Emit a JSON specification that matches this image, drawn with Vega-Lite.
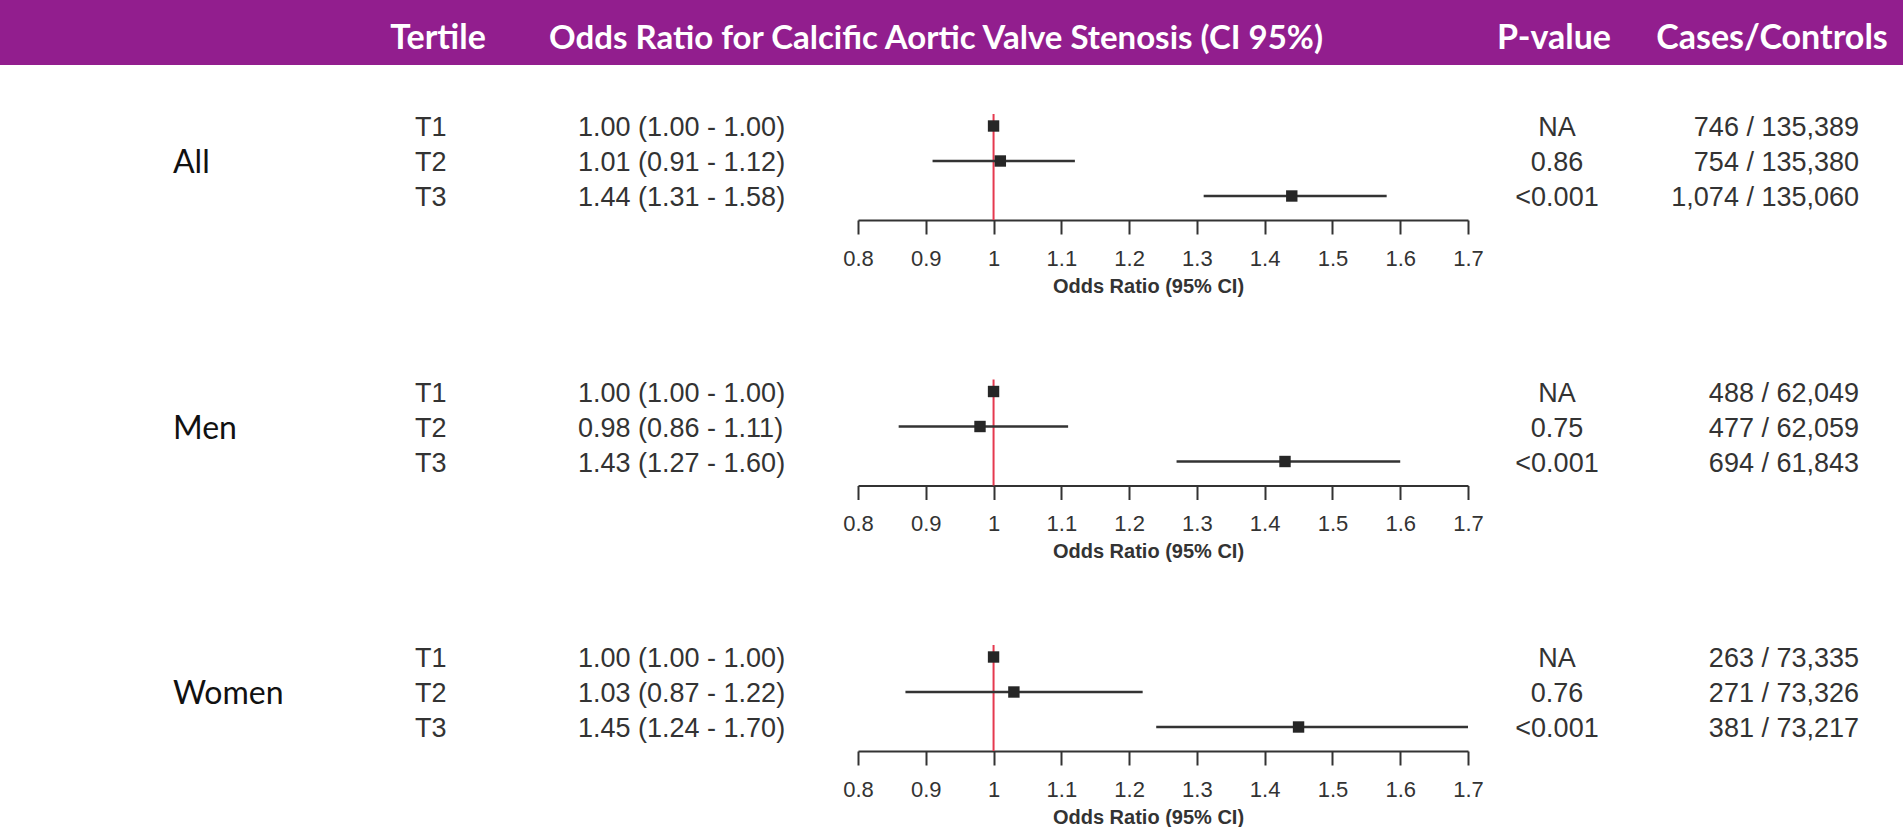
{
  "$schema": "https://vega.github.io/schema/vega-lite/v6.json",
  "padding": 0,
  "background": "white",
  "datasets": {
    "forest": [
      {"group": "All", "tertile": "T1", "or": 1.00, "lo": 1.00, "hi": 1.00, "est": "1.00 (1.00 - 1.00)", "p": "NA", "cases": "746 / 135,389"},
      {"group": "All", "tertile": "T2", "or": 1.01, "lo": 0.91, "hi": 1.12, "est": "1.01 (0.91 - 1.12)", "p": "0.86", "cases": "754 / 135,380"},
      {"group": "All", "tertile": "T3", "or": 1.44, "lo": 1.31, "hi": 1.58, "est": "1.44 (1.31 - 1.58)", "p": "<0.001", "cases": "1,074 / 135,060"},
      {"group": "Men", "tertile": "T1", "or": 1.00, "lo": 1.00, "hi": 1.00, "est": "1.00 (1.00 - 1.00)", "p": "NA", "cases": "488 / 62,049"},
      {"group": "Men", "tertile": "T2", "or": 0.98, "lo": 0.86, "hi": 1.11, "est": "0.98 (0.86 - 1.11)", "p": "0.75", "cases": "477 / 62,059"},
      {"group": "Men", "tertile": "T3", "or": 1.43, "lo": 1.27, "hi": 1.60, "est": "1.43 (1.27 - 1.60)", "p": "<0.001", "cases": "694 / 61,843"},
      {"group": "Women", "tertile": "T1", "or": 1.00, "lo": 1.00, "hi": 1.00, "est": "1.00 (1.00 - 1.00)", "p": "NA", "cases": "263 / 73,335"},
      {"group": "Women", "tertile": "T2", "or": 1.03, "lo": 0.87, "hi": 1.22, "est": "1.03 (0.87 - 1.22)", "p": "0.76", "cases": "271 / 73,326"},
      {"group": "Women", "tertile": "T3", "or": 1.45, "lo": 1.24, "hi": 1.70, "est": "1.45 (1.24 - 1.70)", "p": "<0.001", "cases": "381 / 73,217"}
    ],
    "header": [
      {"col": "tertile", "label": "Tertile"},
      {"col": "or", "label": "Odds Ratio for Calcific Aortic Valve Stenosis (CI 95%)"},
      {"col": "p", "label": "P-value"},
      {"col": "cases", "label": "Cases/Controls"}
    ]
  },
  "config": {"view": {"stroke": null}},
  "spacing": 48,
  "vconcat": [
    {
      "width": 1903,
      "height": 65,
      "view": {"fill": "#921e8e", "stroke": null},
      "data": {"name": "header"},
      "layer": [
        {"transform": [{"filter": "datum.col == 'tertile'"}], "mark": {"type": "text", "font": "Lato", "fontSize": 34, "fontWeight": "bold", "color": "white", "align": "center", "baseline": "middle", "dy": 6}, "encoding": {"x": {"field": "col", "type": "nominal", "axis": null, "scale": {"type": "point", "range": [438, 438], "padding": 0}}, "text": {"field": "label"}}},
        {"transform": [{"filter": "datum.col == 'or'"}], "mark": {"type": "text", "font": "Lato", "fontSize": 33, "fontWeight": "bold", "color": "white", "align": "center", "baseline": "middle", "dy": 6}, "encoding": {"x": {"field": "col", "type": "nominal", "axis": null, "scale": {"type": "point", "range": [936, 936], "padding": 0}}, "text": {"field": "label"}}},
        {"transform": [{"filter": "datum.col == 'p'"}], "mark": {"type": "text", "font": "Lato", "fontSize": 34, "fontWeight": "bold", "color": "white", "align": "center", "baseline": "middle", "dy": 6}, "encoding": {"x": {"field": "col", "type": "nominal", "axis": null, "scale": {"type": "point", "range": [1554, 1554], "padding": 0}}, "text": {"field": "label"}}},
        {"transform": [{"filter": "datum.col == 'cases'"}], "mark": {"type": "text", "font": "Lato", "fontSize": 34, "fontWeight": "bold", "color": "white", "align": "center", "baseline": "middle", "dy": 6}, "encoding": {"x": {"field": "col", "type": "nominal", "axis": null, "scale": {"type": "point", "range": [1772, 1772], "padding": 0}}, "text": {"field": "label"}}}
      ],
      "resolve": {"scale": {"x": "independent"}}
    },
    {
      "spacing": 159.5,
      "bounds": "flush",
      "vconcat": [
        {
          "width": 1903, "height": 106,
          "data": {"name": "forest"},
          "transform": [{"filter": "datum.group == 'All'"}],
          "layer": [
            {
              "layer": [
                {"transform": [{"filter": "datum.tertile == 'T1'"}], "mark": {"type": "rule", "color": "#e5394f", "strokeWidth": 2}, "encoding": {"x": {"datum": 1, "type": "quantitative", "scale": {"domain": [0.8, 1.7], "range": [858, 1468], "nice": false, "zero": false}, "axis": {"values": [0.8, 0.9, 1, 1.1, 1.2, 1.3, 1.4, 1.5, 1.6, 1.7], "format": "~g", "title": "Odds Ratio (95% CI)", "titleX": 1148, "grid": false, "domainColor": "#333333", "domainWidth": 2, "tickColor": "#333333", "tickWidth": 2, "tickSize": 14, "labelFont": "Liberation Sans", "labelFontSize": 22, "labelColor": "#333333", "labelPadding": 14, "labelFlush": false, "labelOverlap": false, "titleFont": "Liberation Sans", "titleFontSize": 20, "titleFontWeight": "bold", "titleColor": "#333333", "titlePadding": 7}}}},
                {"mark": {"type": "rule", "color": "#333333", "strokeWidth": 2.4}, "encoding": {"x": {"field": "lo", "type": "quantitative"}, "x2": {"field": "hi"}, "y": {"field": "tertile", "type": "nominal", "axis": null, "scale": {"type": "point", "domain": ["T1", "T2", "T3"], "range": [12, 82], "padding": 0}}}},
                {"mark": {"type": "square", "filled": true, "size": 130, "color": "#262626", "opacity": 1}, "encoding": {"x": {"field": "or", "type": "quantitative"}, "y": {"field": "tertile", "type": "nominal"}}}
              ]
            },
            {"transform": [{"filter": "datum.tertile == 'T2'"}], "mark": {"type": "text", "font": "Lato", "fontSize": 32, "color": "#111111", "align": "left", "baseline": "middle", "dy": 2}, "encoding": {"x": {"field": "group", "type": "nominal", "axis": null, "scale": {"type": "point", "range": [173, 173], "padding": 0}}, "y": {"field": "tertile", "type": "nominal"}, "text": {"field": "group"}}},
            {"transform": [{"fold": ["tertile", "est"], "as": ["key", "value"]}], "mark": {"type": "text", "font": "Liberation Sans", "fontSize": 27, "color": "#333333", "align": "left", "baseline": "middle", "dy": 2}, "encoding": {"x": {"field": "key", "type": "nominal", "axis": null, "scale": {"type": "point", "domain": ["tertile", "est"], "range": [415, 578], "padding": 0}}, "y": {"field": "tertile", "type": "nominal"}, "text": {"field": "value"}}},
            {"mark": {"type": "text", "font": "Liberation Sans", "fontSize": 27, "color": "#333333", "align": "center", "baseline": "middle", "dy": 2}, "encoding": {"x": {"datum": "p", "type": "nominal", "axis": null, "scale": {"type": "point", "range": [1557, 1557], "padding": 0}}, "y": {"field": "tertile", "type": "nominal"}, "text": {"field": "p"}}},
            {"mark": {"type": "text", "font": "Liberation Sans", "fontSize": 27, "color": "#333333", "align": "right", "baseline": "middle", "dy": 2}, "encoding": {"x": {"datum": "cases", "type": "nominal", "axis": null, "scale": {"type": "point", "range": [1859, 1859], "padding": 0}}, "y": {"field": "tertile", "type": "nominal"}, "text": {"field": "cases"}}}
          ],
          "resolve": {"scale": {"x": "independent"}, "axis": {"x": "independent"}}
        },
        {
          "width": 1903, "height": 106,
          "data": {"name": "forest"},
          "transform": [{"filter": "datum.group == 'Men'"}],
          "layer": [
            {
              "layer": [
                {"transform": [{"filter": "datum.tertile == 'T1'"}], "mark": {"type": "rule", "color": "#e5394f", "strokeWidth": 2}, "encoding": {"x": {"datum": 1, "type": "quantitative", "scale": {"domain": [0.8, 1.7], "range": [858, 1468], "nice": false, "zero": false}, "axis": {"values": [0.8, 0.9, 1, 1.1, 1.2, 1.3, 1.4, 1.5, 1.6, 1.7], "format": "~g", "title": "Odds Ratio (95% CI)", "titleX": 1148, "grid": false, "domainColor": "#333333", "domainWidth": 2, "tickColor": "#333333", "tickWidth": 2, "tickSize": 14, "labelFont": "Liberation Sans", "labelFontSize": 22, "labelColor": "#333333", "labelPadding": 14, "labelFlush": false, "labelOverlap": false, "titleFont": "Liberation Sans", "titleFontSize": 20, "titleFontWeight": "bold", "titleColor": "#333333", "titlePadding": 7}}}},
                {"mark": {"type": "rule", "color": "#333333", "strokeWidth": 2.4}, "encoding": {"x": {"field": "lo", "type": "quantitative"}, "x2": {"field": "hi"}, "y": {"field": "tertile", "type": "nominal", "axis": null, "scale": {"type": "point", "domain": ["T1", "T2", "T3"], "range": [12, 82], "padding": 0}}}},
                {"mark": {"type": "square", "filled": true, "size": 130, "color": "#262626", "opacity": 1}, "encoding": {"x": {"field": "or", "type": "quantitative"}, "y": {"field": "tertile", "type": "nominal"}}}
              ]
            },
            {"transform": [{"filter": "datum.tertile == 'T2'"}], "mark": {"type": "text", "font": "Lato", "fontSize": 32, "color": "#111111", "align": "left", "baseline": "middle", "dy": 2}, "encoding": {"x": {"field": "group", "type": "nominal", "axis": null, "scale": {"type": "point", "range": [173, 173], "padding": 0}}, "y": {"field": "tertile", "type": "nominal"}, "text": {"field": "group"}}},
            {"transform": [{"fold": ["tertile", "est"], "as": ["key", "value"]}], "mark": {"type": "text", "font": "Liberation Sans", "fontSize": 27, "color": "#333333", "align": "left", "baseline": "middle", "dy": 2}, "encoding": {"x": {"field": "key", "type": "nominal", "axis": null, "scale": {"type": "point", "domain": ["tertile", "est"], "range": [415, 578], "padding": 0}}, "y": {"field": "tertile", "type": "nominal"}, "text": {"field": "value"}}},
            {"mark": {"type": "text", "font": "Liberation Sans", "fontSize": 27, "color": "#333333", "align": "center", "baseline": "middle", "dy": 2}, "encoding": {"x": {"datum": "p", "type": "nominal", "axis": null, "scale": {"type": "point", "range": [1557, 1557], "padding": 0}}, "y": {"field": "tertile", "type": "nominal"}, "text": {"field": "p"}}},
            {"mark": {"type": "text", "font": "Liberation Sans", "fontSize": 27, "color": "#333333", "align": "right", "baseline": "middle", "dy": 2}, "encoding": {"x": {"datum": "cases", "type": "nominal", "axis": null, "scale": {"type": "point", "range": [1859, 1859], "padding": 0}}, "y": {"field": "tertile", "type": "nominal"}, "text": {"field": "cases"}}}
          ],
          "resolve": {"scale": {"x": "independent"}, "axis": {"x": "independent"}}
        },
        {
          "width": 1903, "height": 106,
          "data": {"name": "forest"},
          "transform": [{"filter": "datum.group == 'Women'"}],
          "layer": [
            {
              "layer": [
                {"transform": [{"filter": "datum.tertile == 'T1'"}], "mark": {"type": "rule", "color": "#e5394f", "strokeWidth": 2}, "encoding": {"x": {"datum": 1, "type": "quantitative", "scale": {"domain": [0.8, 1.7], "range": [858, 1468], "nice": false, "zero": false}, "axis": {"values": [0.8, 0.9, 1, 1.1, 1.2, 1.3, 1.4, 1.5, 1.6, 1.7], "format": "~g", "title": "Odds Ratio (95% CI)", "titleX": 1148, "grid": false, "domainColor": "#333333", "domainWidth": 2, "tickColor": "#333333", "tickWidth": 2, "tickSize": 14, "labelFont": "Liberation Sans", "labelFontSize": 22, "labelColor": "#333333", "labelPadding": 14, "labelFlush": false, "labelOverlap": false, "titleFont": "Liberation Sans", "titleFontSize": 20, "titleFontWeight": "bold", "titleColor": "#333333", "titlePadding": 7}}}},
                {"mark": {"type": "rule", "color": "#333333", "strokeWidth": 2.4}, "encoding": {"x": {"field": "lo", "type": "quantitative"}, "x2": {"field": "hi"}, "y": {"field": "tertile", "type": "nominal", "axis": null, "scale": {"type": "point", "domain": ["T1", "T2", "T3"], "range": [12, 82], "padding": 0}}}},
                {"mark": {"type": "square", "filled": true, "size": 130, "color": "#262626", "opacity": 1}, "encoding": {"x": {"field": "or", "type": "quantitative"}, "y": {"field": "tertile", "type": "nominal"}}}
              ]
            },
            {"transform": [{"filter": "datum.tertile == 'T2'"}], "mark": {"type": "text", "font": "Lato", "fontSize": 32, "color": "#111111", "align": "left", "baseline": "middle", "dy": 2}, "encoding": {"x": {"field": "group", "type": "nominal", "axis": null, "scale": {"type": "point", "range": [173, 173], "padding": 0}}, "y": {"field": "tertile", "type": "nominal"}, "text": {"field": "group"}}},
            {"transform": [{"fold": ["tertile", "est"], "as": ["key", "value"]}], "mark": {"type": "text", "font": "Liberation Sans", "fontSize": 27, "color": "#333333", "align": "left", "baseline": "middle", "dy": 2}, "encoding": {"x": {"field": "key", "type": "nominal", "axis": null, "scale": {"type": "point", "domain": ["tertile", "est"], "range": [415, 578], "padding": 0}}, "y": {"field": "tertile", "type": "nominal"}, "text": {"field": "value"}}},
            {"mark": {"type": "text", "font": "Liberation Sans", "fontSize": 27, "color": "#333333", "align": "center", "baseline": "middle", "dy": 2}, "encoding": {"x": {"datum": "p", "type": "nominal", "axis": null, "scale": {"type": "point", "range": [1557, 1557], "padding": 0}}, "y": {"field": "tertile", "type": "nominal"}, "text": {"field": "p"}}},
            {"mark": {"type": "text", "font": "Liberation Sans", "fontSize": 27, "color": "#333333", "align": "right", "baseline": "middle", "dy": 2}, "encoding": {"x": {"datum": "cases", "type": "nominal", "axis": null, "scale": {"type": "point", "range": [1859, 1859], "padding": 0}}, "y": {"field": "tertile", "type": "nominal"}, "text": {"field": "cases"}}}
          ],
          "resolve": {"scale": {"x": "independent"}, "axis": {"x": "independent"}}
        }
      ]
    }
  ]
}
